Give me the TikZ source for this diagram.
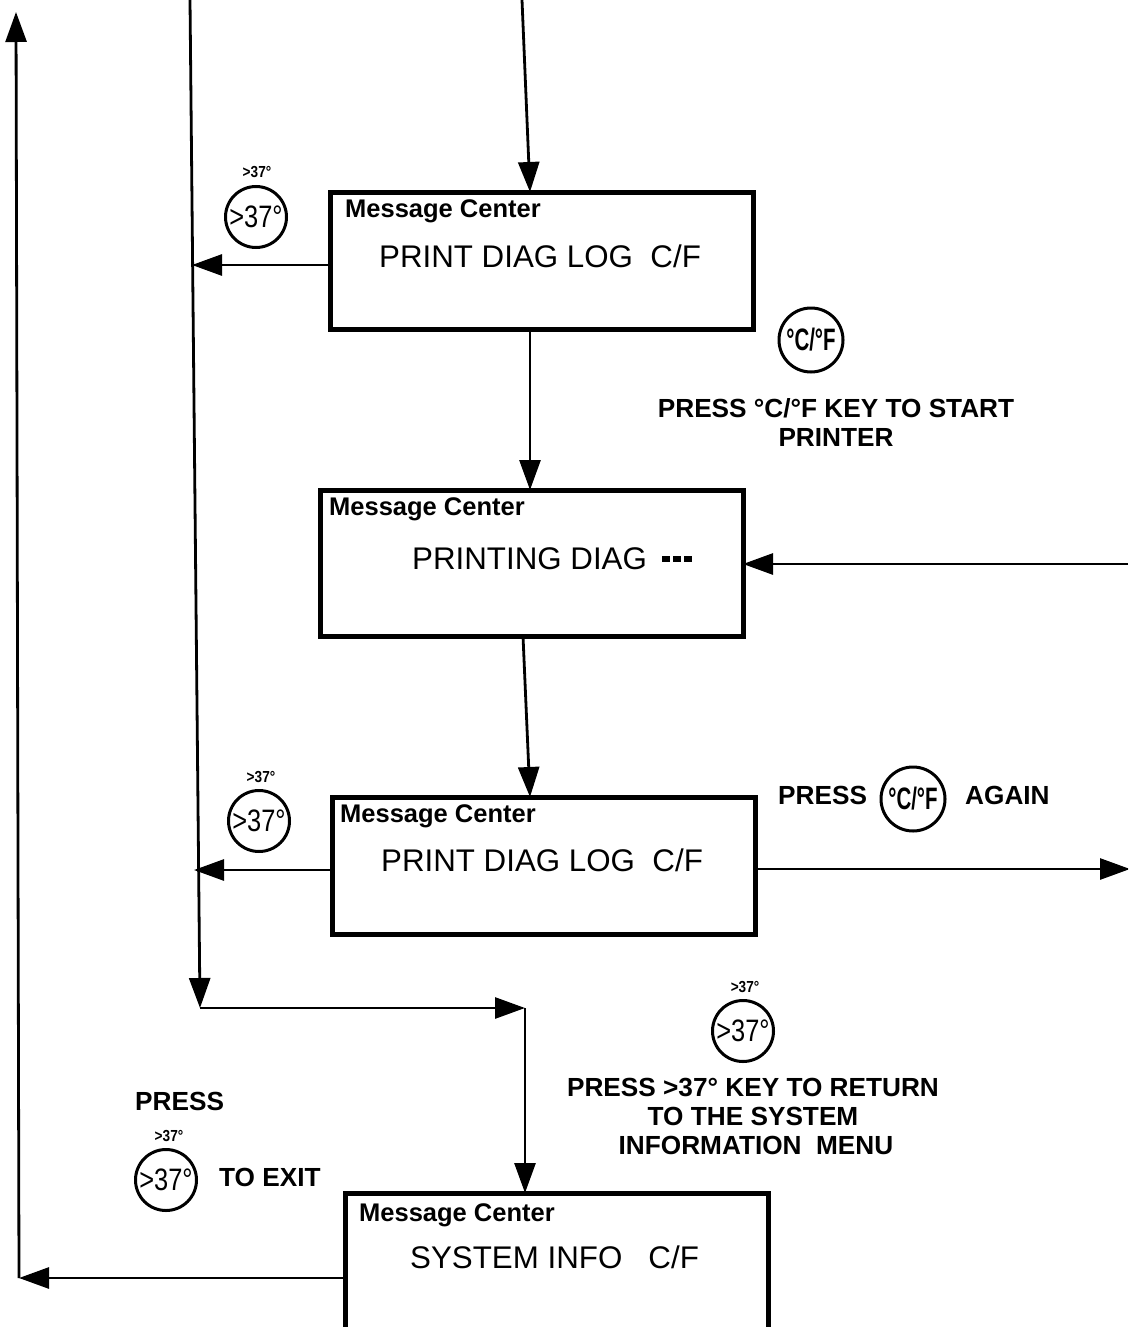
\documentclass[tikz,border=0pt]{standalone}
\usepackage{fontspec}
\setmainfont{Liberation Sans}
\usetikzlibrary{arrows.meta}
\tikzset{
  x=1pt,y=-1pt,
  msgbox/.style={draw=black,line width=5pt,minimum width=423pt,inner sep=0pt,outer sep=0pt,fill=white},
  title/.style={font=\fontsize{25.5}{29}\selectfont\bfseries,inner sep=0pt},
  msg/.style={font=\fontsize{31.3}{34}\selectfont,inner sep=0pt},
  lab/.style={font=\fontsize{26.2}{29}\selectfont\bfseries,inner sep=0pt,align=center},
  keyc/.style={draw=black,circle,line width=3pt,minimum size=61pt,inner sep=0pt},
  keytop/.style={font=\fontsize{16}{16}\selectfont\bfseries,inner sep=0pt},
  conn/.style={line width=2.8pt,draw=black},
  arr/.style={conn,-{Triangle[length=30pt,width=21pt]}},
}
\newcommand{\ksev}{\scalebox{.82}[1]{\fontsize{31}{31}\selectfont >37°}}
\newcommand{\ksevs}{\scalebox{.85}[1]{>37°}}
\newcommand{\kcf}{\scalebox{.66}[1]{\fontsize{31}{31}\selectfont\bfseries °C/°F}}
\begin{document}
\begin{tikzpicture}
\useasboundingbox (0,0) rectangle (1128,1327);
\clip (0,0) rectangle (1128,1327);
\fill[white] (0,0) rectangle (1128,1327);
% boxes
\node[msgbox,minimum height=137pt] (b1) at (541.5,260.5) {};
\node[msgbox,minimum height=146pt] (b2) at (531.5,563) {};
\node[msgbox,minimum height=137pt] (b3) at (544,865.5) {};
\node[msgbox,minimum height=160pt] (b4) at (556.5,1273) {};
% box texts
\node[title,anchor=west] (t1) at (345,211) {Message Center};
\node[msg] (m1) at (540,256) {PRINT DIAG LOG\ \ C/F};
\node[title,anchor=west] (t2) at (329,509) {Message Center};
\node[msg,anchor=west] (m2) at (412,559) {PRINTING DIAG \hspace{6pt}\rule[8pt]{8pt}{6pt}\hspace{3pt}\rule[8pt]{8pt}{6pt}\hspace{3pt}\rule[8pt]{8pt}{6pt}};
\node[title,anchor=west] (t3) at (340,816) {Message Center};
\node[msg] (m3) at (542,860) {PRINT DIAG LOG\ \ C/F};
\node[title,anchor=west] (t4) at (359,1215) {Message Center};
\node[msg,anchor=west] (m4) at (410,1257) {SYSTEM INFO\ \ \ C/F};
% keys
\node[keyc] (k1) at (256,217) {\ksev};
\node[keytop] (k1t) at (257,172) {\ksevs};
\node[keyc,minimum size=64pt] (k2) at (811,340) {\kcf};
\node[keyc] (k3) at (259,821) {\ksev};
\node[keytop] (k3t) at (261,777) {\ksevs};
\node[keyc,minimum size=64pt] (k4) at (913,799) {\kcf};
\node[keyc] (k5) at (743,1031) {\ksev};
\node[keytop] (k5t) at (745,987) {\ksevs};
\node[keyc] (k6) at (166,1180) {\ksev};
\node[keytop] (k6t) at (169,1136) {\ksevs};
% labels
\node[lab] (l1) at (836,423) {PRESS °C/°F KEY TO START\\PRINTER};
\node[lab,anchor=west] (l2) at (778,795) {PRESS};
\node[lab,anchor=west] (l3) at (965,795) {AGAIN};
\node[lab] (l4) at (753,1116) {PRESS >37° KEY TO RETURN\\TO THE SYSTEM\hspace{6pt}\\\hspace{6pt}INFORMATION\ \ MENU};
\node[lab,anchor=west] (l5) at (135,1101) {PRESS};
\node[lab,anchor=west] (l6) at (219,1177) {TO EXIT};
% free ends
\coordinate (topin) at (522,0);
\coordinate (bus0) at (190,0);
\coordinate (busend) at (200,1008);
\coordinate (turn) at (525,1008);
\coordinate (bus1) at (192,265);
\coordinate (bus3) at (194,870);
\coordinate (rin) at (1128,564);
\coordinate (rout) at (1130,869);
\coordinate (sw) at (19,1278);
\coordinate (nw) at (16,12);
% connectors
\draw[arr] (topin) -- ([xshift=-11.5pt]b1.north);
\draw[arr] ([xshift=-11.5pt]b1.south) -- ([xshift=-1.5pt]b2.north);
\draw[arr] ([xshift=-8.5pt]b2.south) -- ([xshift=-14pt]b3.north);
\draw[arr] (b1.west |- bus1) -- (bus1);
\draw[arr] (b3.west |- bus3) -- (bus3);
\draw[arr] (rin) -- (b2.east |- rin);
\draw[arr] (b3.east |- rout) -- (rout);
\draw[arr] (bus0) -- (busend);
\draw[arr] (busend) -- (turn);
\draw[arr] (turn) -- (turn |- b4.north);
\draw[arr] (b4.west |- sw) -- (sw);
\draw[arr] (sw) -- (nw);
\end{tikzpicture}
\end{document}
